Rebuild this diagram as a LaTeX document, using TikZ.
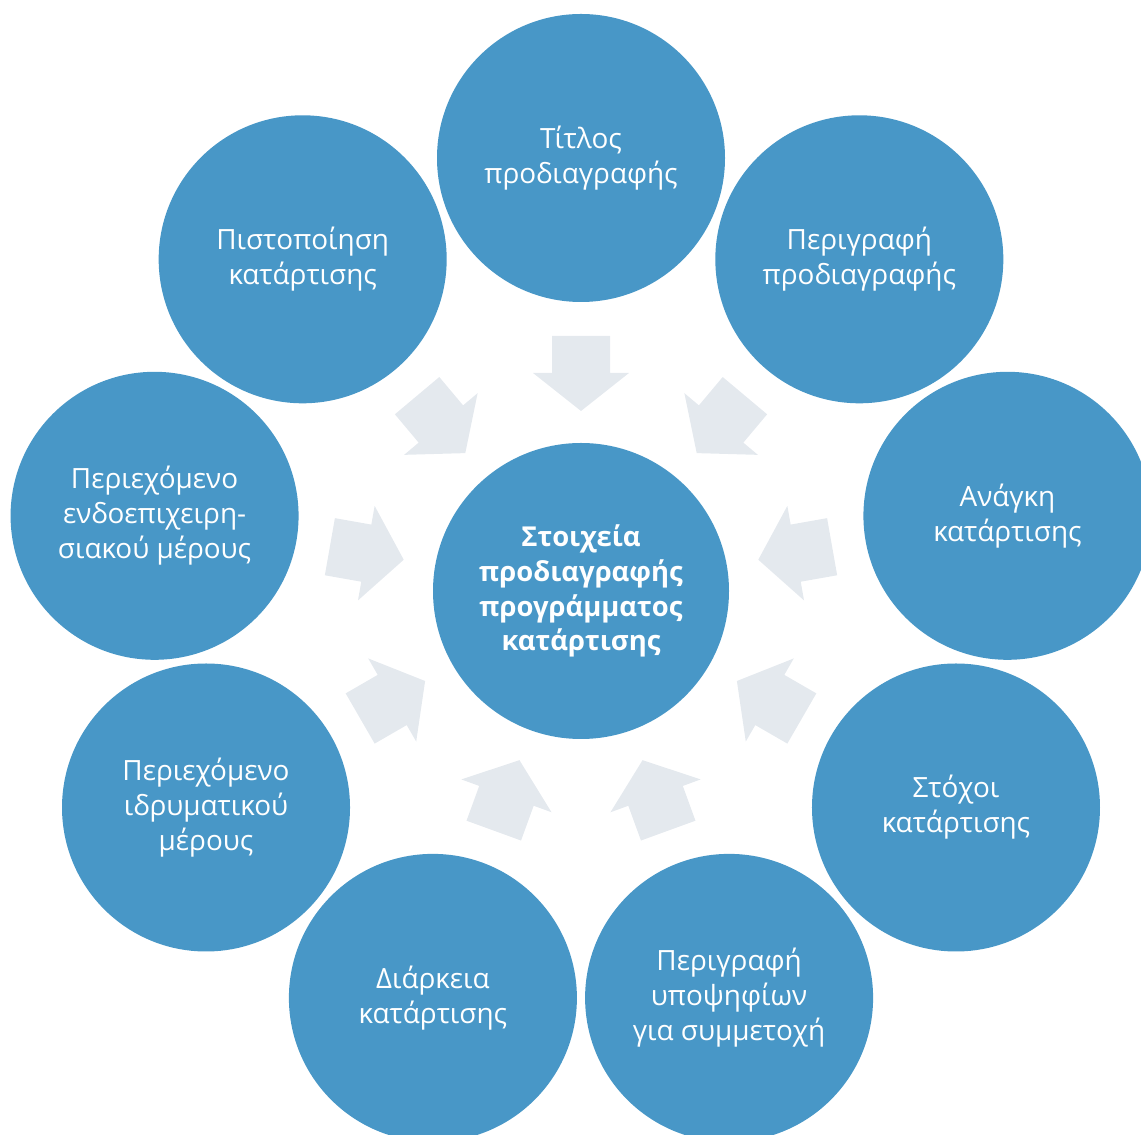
\documentclass[tikz,border=0pt]{standalone}
\usepackage{fontspec}
\setmainfont{Open Sans}
\usetikzlibrary{calc}
\definecolor{circblue}{RGB}{72,151,199}
\definecolor{arrgray}{RGB}{228,233,238}
\begin{document}
\begin{tikzpicture}[x=1bp,y=1bp,
  outer/.style={circle,fill=circblue,minimum size=288bp,inner sep=0pt,text=white,align=center,
    font=\fontsize{28}{35}\selectfont},
  hub/.style={circle,fill=circblue,minimum size=296bp,inner sep=0pt,text=white,align=center,
    font=\fontsize{27.5}{35}\selectfont\bfseries},
  blockarrow/.style={fill=arrgray}]
\clip (0,0) rectangle (1141,1135);
\coordinate (c) at (581,544);
% arrows
\foreach \a in {90,50,10,-30,-70,-110,-150,170,130}{
  \begin{scope}[shift={(c)},rotate=\a]
    \fill[blockarrow] (255,29) -- (218,29) -- (218,48) -- (180,0) -- (218,-48) -- (218,-29) -- (255,-29) -- cycle;
  \end{scope}
}
\node[hub] (hub) at (c) {Στοιχεία\\προδιαγραφής\\προγράμματος\\κατάρτισης};
\node[outer] (n1) at ($(c)+(90:433)$) {Τίτλος\\προδιαγραφής};
\node[outer] (n2) at ($(c)+(50:433)$) {Περιγραφή\\προδιαγραφής};
\node[outer] (n3) at ($(c)+(10:433)$) {Ανάγκη\\κατάρτισης};
\node[outer] (n4) at ($(c)+(-30:433)$) {Στόχοι\\κατάρτισης};
\node[outer] (n5) at ($(c)+(-70:433)$) {Περιγραφή\\υποψηφίων\\για συμμετοχή};
\node[outer] (n6) at ($(c)+(-110:433)$) {Διάρκεια\\κατάρτισης};
\node[outer] (n7) at ($(c)+(-150:433)$) {Περιεχόμενο\\ιδρυματικού\\μέρους};
\node[outer] (n8) at ($(c)+(170:433)$) {Περιεχόμενο\\ενδοεπιχειρη-\\σιακού μέρους};
\node[outer] (n9) at ($(c)+(130:433)$) {Πιστοποίηση\\κατάρτισης};
\end{tikzpicture}
\end{document}
